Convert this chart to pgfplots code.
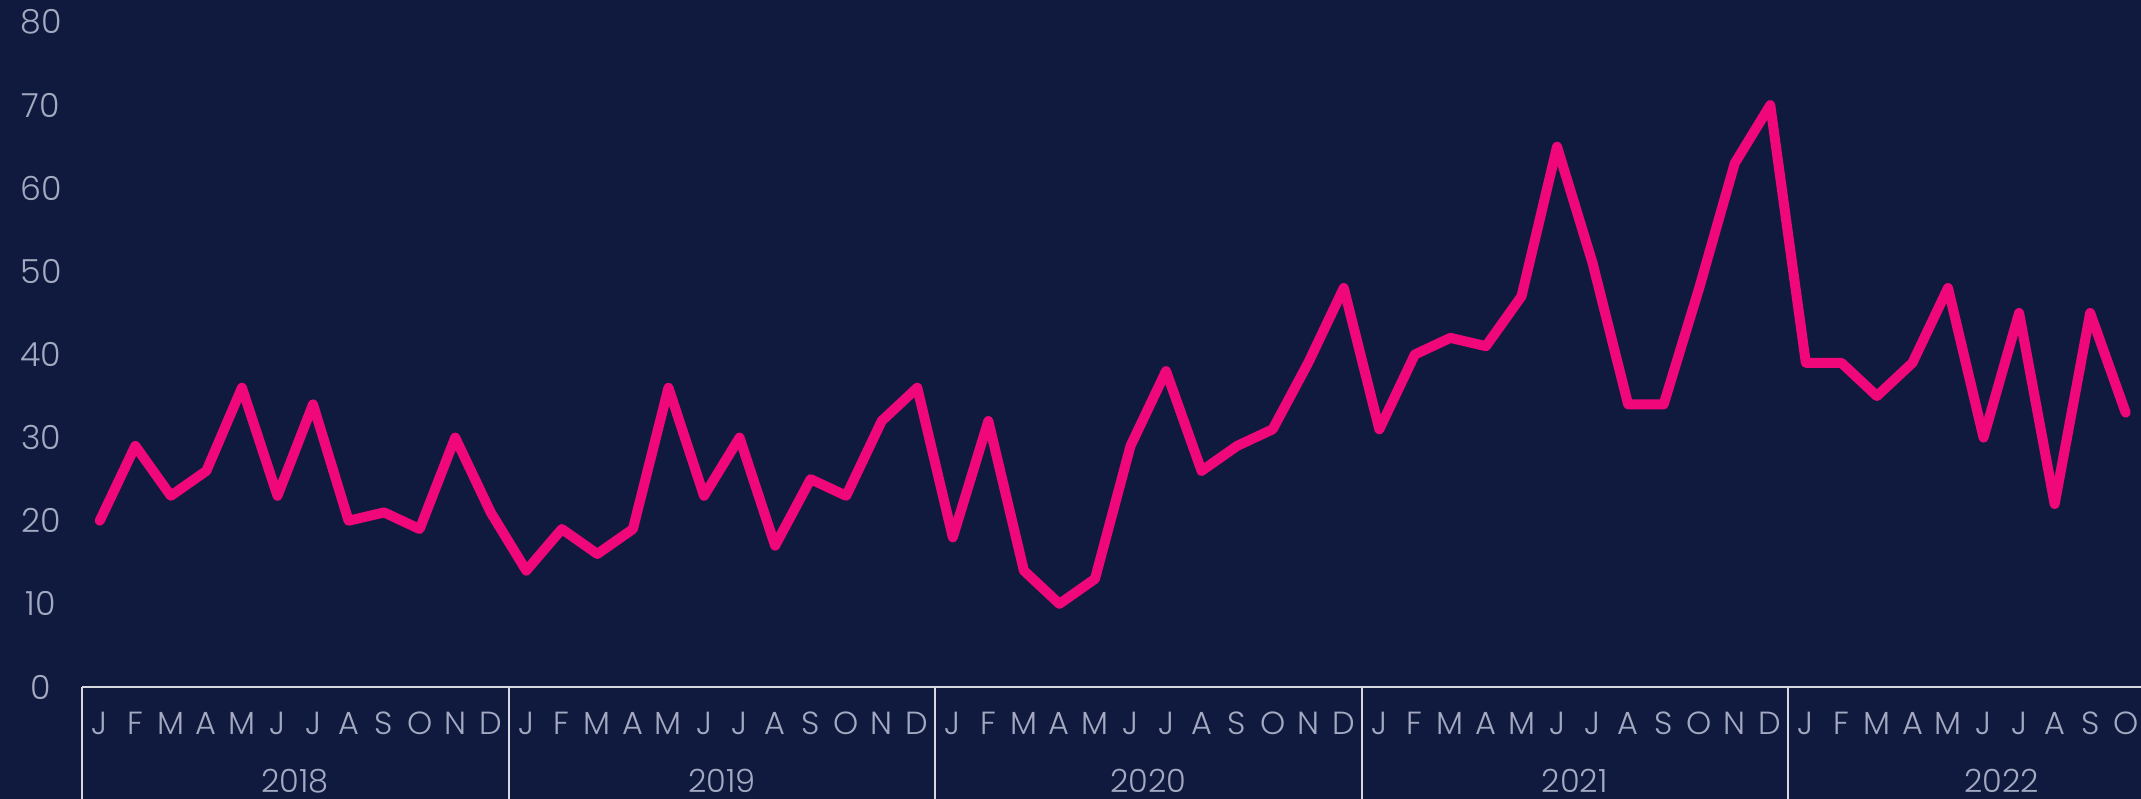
\documentclass[border=0pt]{standalone}
\usepackage{pgfplots}
\pgfplotsset{compat=1.18}
\usepackage{fontspec}
\setmainfont{Poppins}[UprightFont=* Light]
\definecolor{bg}{HTML}{101A3E}
\definecolor{pinkline}{HTML}{F0077A}
\definecolor{lbl}{HTML}{A3A9C0}
\definecolor{axl}{HTML}{D6D8E0}
\begin{document}
\begin{tikzpicture}
\fill[bg] (-20.5pt,-28pt) rectangle (514.75pt,171.75pt);
\begin{axis}[
  at={(0,0)}, anchor=origin,
  width=514.75pt, height=166.25pt, scale only axis,
  xmin=0, xmax=57.93, ymin=0, ymax=80,
  axis line style={draw=none},
  major tick length=0pt,
  clip=false,
  /pgf/number format/assume math mode=true,
  ytick={0,10,...,80},
  yticklabel style={anchor=center, xshift=-10.25pt, font=\fontsize{8.3}{9}\selectfont, text=lbl},
  xtick={0.5,1.5,...,57.5},
  xticklabels={J,F,M,A,M,J,J,A,S,O,N,D,J,F,M,A,M,J,J,A,S,O,N,D,J,F,M,A,M,J,J,A,S,O,N,D,J,F,M,A,M,J,J,A,S,O,N,D,J,F,M,A,M,J,J,A,S,O,N,D},
  xticklabel style={anchor=base, yshift=-11.9pt, font=\fontsize{8}{9}\selectfont, text=lbl},
]
\draw[axl, line width=0.5pt] (axis cs:0,0) -- (axis cs:57.93,0);
\pgfplotsinvokeforeach{0,12,24,36,48}{
  \draw[axl, line width=0.5pt] (axis cs:#1,0) -- ++(0,-28pt);
}
\node[anchor=base, text=lbl, font=\fontsize{8}{9}\selectfont, inner sep=0pt] at ([yshift=-26.3pt]axis cs:6,0) {2018};
\node[anchor=base, text=lbl, font=\fontsize{8}{9}\selectfont, inner sep=0pt] at ([yshift=-26.3pt]axis cs:18,0) {2019};
\node[anchor=base, text=lbl, font=\fontsize{8}{9}\selectfont, inner sep=0pt] at ([yshift=-26.3pt]axis cs:30,0) {2020};
\node[anchor=base, text=lbl, font=\fontsize{8}{9}\selectfont, inner sep=0pt] at ([yshift=-26.3pt]axis cs:42,0) {2021};
\node[anchor=base, text=lbl, font=\fontsize{8}{9}\selectfont, inner sep=0pt] at ([yshift=-26.3pt]axis cs:54,0) {2022};
\addplot[pinkline, line width=2.5pt, line join=round, line cap=round] table {
x y
0.5 20
1.5 29
2.5 23
3.5 26
4.5 36
5.5 23
6.5 34
7.5 20
8.5 21
9.5 19
10.5 30
11.5 21
12.5 14
13.5 19
14.5 16
15.5 19
16.5 36
17.5 23
18.5 30
19.5 17
20.5 25
21.5 23
22.5 32
23.5 36
24.5 18
25.5 32
26.5 14
27.5 10
28.5 13
29.5 29
30.5 38
31.5 26
32.5 29
33.5 31
34.5 39
35.5 48
36.5 31
37.5 40
38.5 42
39.5 41
40.5 47
41.5 65
42.5 51
43.5 34
44.5 34
45.5 48
46.5 63
47.5 70
48.5 39
49.5 39
50.5 35
51.5 39
52.5 48
53.5 30
54.5 45
55.5 22
56.5 45
57.5 33
};
\end{axis}
\pgfresetboundingbox
\useasboundingbox (-20.5pt,-28pt) rectangle (514.75pt,171.75pt);
\end{tikzpicture}
\end{document}
